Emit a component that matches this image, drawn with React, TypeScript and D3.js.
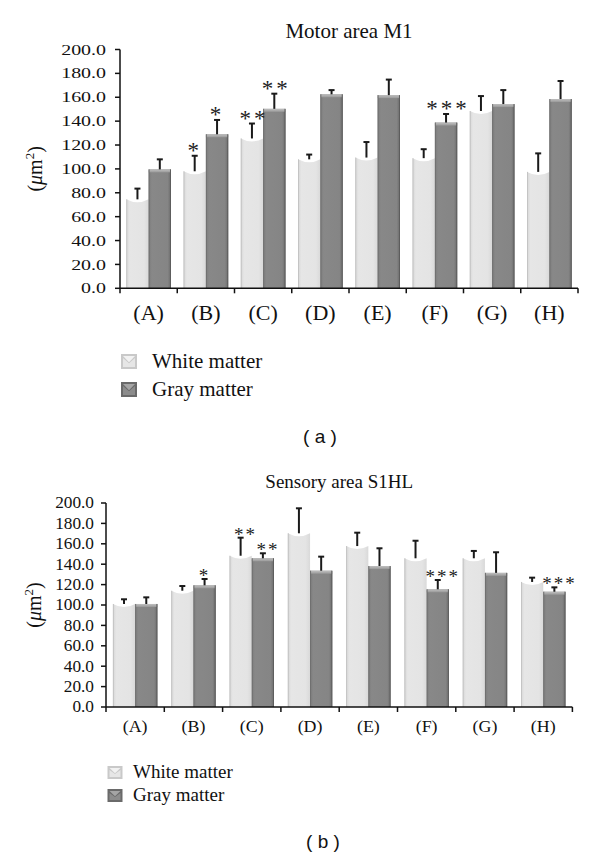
import React from "react";
import * as d3 from "d3";

const categories = ["(A)", "(B)", "(C)", "(D)", "(E)", "(F)", "(G)", "(H)"];
const yTicks = [0, 20, 40, 60, 80, 100, 120, 140, 160, 180, 200];
const seriesNames = ["White matter", "Gray matter"];

const m1White = [74.5, 98, 125.5, 108, 109.5, 109, 148.5, 97.5];
const m1WhiteErr = [9, 13, 12.5, 4, 13, 7.5, 12.5, 15.5];
const m1Gray = [99.6, 129, 150.3, 162.5, 161.8, 138.8, 154.3, 158.5];
const m1GrayErr = [8.4, 12, 12.7, 3.5, 13, 7.2, 11.7, 15.1];
const m1WhiteSig = ["", "*", "**", "", "", "", "", ""];
const m1GraySig = ["", "*", "**", "", "", "***", "", ""];

const s1White = [101, 114, 148.3, 170.3, 157.8, 145.8, 145.8, 122.6];
const s1WhiteErr = [4.6, 4.6, 17.7, 24.5, 13.1, 17.2, 7.2, 4.2];
const s1Gray = [101, 119.3, 145.8, 133.6, 138.2, 115.4, 131.5, 113];
const s1GrayErr = [6.5, 6.2, 4.9, 13.8, 17.4, 9.1, 20.2, 4.3];
const s1WhiteSig = ["", "", "**", "", "", "", "", ""];
const s1GraySig = ["", "*", "**", "", "", "***", "", "***"];

const SERIF = "'Liberation Serif', 'Times New Roman', serif";
const SANS = "'Liberation Sans', Arial, sans-serif";

type Cfg = {
  x0: number; x1: number; y0: number; y1: number; pad: number;
  tickFont: number; tickSX: number; tickX: number;
  catFont: number; catSX: number; catY: number;
  title: string; titleFont: number; titleY: number;
  yLabX: number; yLabFont: number;
  legX: number; legY: number; legW: number; legH: number; legGap: number; legTextX: number; legFont: number;
  panel: string; panelX: number; panelY: number;
  sigFont: number; sigDx: number; sigDy: number; sigLS: number;
};

function WhiteBar({ x, w, yTop, yBase }: { x: number; w: number; yTop: number; yBase: number }) {
  const d = `M${x},${yBase} L${x},${yTop} Q${x + w / 2},${yTop + 6} ${x + w},${yTop} L${x + w},${yBase} Z`;
  return (
    <g>
      <path d={d} fill="url(#whiteGrad)" />
      <line x1={x + 0.5} x2={x + 0.5} y1={yTop} y2={yBase} stroke="#c4c4c4" strokeWidth={1} />
    </g>
  );
}

function GrayBar({ x, w, yTop, yBase }: { x: number; w: number; yTop: number; yBase: number }) {
  return (
    <g>
      <rect x={x} y={yTop} width={w} height={yBase - yTop} fill="url(#grayGrad)" />
      <rect x={x} y={yTop} width={w} height={3} fill="url(#grayTop)" />
      <line x1={x + w - 0.5} x2={x + w - 0.5} y1={yTop} y2={yBase} stroke="#5e5e5e" strokeWidth={1} />
      <line x1={x + 0.5} x2={x + 0.5} y1={yTop} y2={yBase} stroke="#707070" strokeWidth={1} />
    </g>
  );
}

function ErrBar({ cx, yv, ye }: { cx: number; yv: number; ye: number }) {
  return (
    <g stroke="#1a1a1a" strokeWidth={2}>
      <line x1={cx} x2={cx} y1={yv} y2={ye} />
      <line x1={cx - 3} x2={cx + 3} y1={ye} y2={ye} />
    </g>
  );
}

function LegendIcon({ x, y, w, h, dark }: { x: number; y: number; w: number; h: number; dark: boolean }) {
  const outer = dark ? "#6a6a6a" : "#c9c9c9";
  const inner = dark ? "#8c8c8c" : "#e6e6e6";
  const top = dark ? "#a5a5a5" : "#f2f2f2";
  return (
    <g>
      <rect x={x} y={y} width={w} height={h} fill={outer} />
      <path d={`M${x + 2},${y + 2} L${x + w - 2},${y + 2} L${x + w / 2},${y + h * 0.55} Z`} fill={top} />
      <path d={`M${x + 2},${y + h - 2} L${x + 2},${y + 4} L${x + w / 2},${y + h * 0.62} L${x + w - 2},${y + 4} L${x + w - 2},${y + h - 2} Z`} fill={inner} />
    </g>
  );
}

function Panel({ cfg, white, whiteErr, gray, grayErr, whiteSig, graySig }: {
  cfg: Cfg; white: number[]; whiteErr: number[]; gray: number[]; grayErr: number[]; whiteSig: string[]; graySig: string[];
}) {
  const x = d3.scaleBand<string>().domain(categories).range([cfg.x0, cfg.x1]).padding(0);
  const inner = d3.scaleBand<string>().domain(seriesNames).range([0, x.bandwidth()]).paddingInner(0).paddingOuter(cfg.pad);
  const y = d3.scaleLinear().domain([0, 200]).range([cfg.y0, cfg.y1]);
  const bw = inner.bandwidth();
  const plotMid = (cfg.y0 + cfg.y1) / 2;

  const sig = (s: string, cx: number, yy: number) => (
    <text x={cx + (s.length > 1 ? cfg.sigDx : 0)} y={yy + cfg.sigDy}
      textAnchor="middle" fontFamily={SERIF} fontSize={cfg.sigFont} letterSpacing={cfg.sigLS} fill="#222">{s}</text>
  );

  return (
    <g>
      <text x={(cfg.x0 + cfg.x1) / 2} y={cfg.titleY} textAnchor="middle" fontFamily={SERIF} fontSize={cfg.titleFont} fill="#111">
        {cfg.title}
      </text>
      {categories.map((c, i) => {
        const xw = (x(c) as number) + (inner(seriesNames[0]) as number);
        const xg = (x(c) as number) + (inner(seriesNames[1]) as number);
        return (
          <g key={c}>
            <WhiteBar x={xw} w={bw} yTop={y(white[i])} yBase={cfg.y0} />
            <GrayBar x={xg} w={bw} yTop={y(gray[i])} yBase={cfg.y0} />
            <ErrBar cx={xw + bw / 2} yv={y(white[i])} ye={y(white[i] + whiteErr[i])} />
            <ErrBar cx={xg + bw / 2} yv={y(gray[i])} ye={y(gray[i] + grayErr[i])} />
            {whiteSig[i] && sig(whiteSig[i], xw + bw / 2, y(white[i] + whiteErr[i]))}
            {graySig[i] && sig(graySig[i], xg + bw / 2, y(gray[i] + grayErr[i]))}
          </g>
        );
      })}
      <line x1={cfg.x0} x2={cfg.x0} y1={cfg.y1} y2={cfg.y0} stroke="#111" strokeWidth={1.5} />
      {yTicks.map((t) => (
        <g key={t}>
          <line x1={cfg.x0 - 5} x2={cfg.x0} y1={y(t)} y2={y(t)} stroke="#111" strokeWidth={1.5} />
          <text transform={`translate(${cfg.tickX},${y(t)}) scale(${cfg.tickSX},1)`} dy="0.34em" textAnchor="end"
            fontFamily={SERIF} fontSize={cfg.tickFont} fill="#111">{t.toFixed(1)}</text>
        </g>
      ))}
      <line x1={cfg.x0} x2={cfg.x1} y1={cfg.y0} y2={cfg.y0} stroke="#111" strokeWidth={1.5} />
      {categories.map((c) => (
        <line key={c} x1={(x(c) as number) + x.bandwidth()} x2={(x(c) as number) + x.bandwidth()} y1={cfg.y0} y2={cfg.y0 + 5} stroke="#111" strokeWidth={1.5} />
      ))}
      <line x1={cfg.x0} x2={cfg.x0} y1={cfg.y0} y2={cfg.y0 + 5} stroke="#111" strokeWidth={1.5} />
      {categories.map((c) => (
        <text key={c} transform={`translate(${(x(c) as number) + x.bandwidth() / 2},${cfg.catY}) scale(${cfg.catSX},1)`}
          textAnchor="middle" fontFamily={SERIF} fontSize={cfg.catFont} fill="#111">{c}</text>
      ))}
      <text transform={`translate(${cfg.yLabX},${plotMid}) rotate(-90)`} textAnchor="middle" fontFamily={SERIF} fontSize={cfg.yLabFont} fill="#111">
        (<tspan fontStyle="italic">μ</tspan>m<tspan dy={-cfg.yLabFont * 0.4} fontSize={cfg.yLabFont * 0.65}>2</tspan><tspan dy={cfg.yLabFont * 0.4}>)</tspan>
      </text>
      {seriesNames.map((s, i) => (
        <g key={s}>
          <LegendIcon x={cfg.legX} y={cfg.legY + i * cfg.legGap} w={cfg.legW} h={cfg.legH} dark={i === 1} />
          <text x={cfg.legTextX} y={cfg.legY + i * cfg.legGap + cfg.legH - 1} fontFamily={SERIF} fontSize={cfg.legFont} fill="#111">{s}</text>
        </g>
      ))}
      <text x={cfg.panelX} y={cfg.panelY} textAnchor="middle" fontFamily={SANS} fontSize={19} fill="#111" xmlSpace="preserve">{cfg.panel}</text>
    </g>
  );
}

const topCfg: Cfg = {
  x0: 120, x1: 578, y0: 288.3, y1: 49.5, pad: 0.28,
  tickFont: 15, tickSX: 1.33, tickX: 106,
  catFont: 20, catSX: 1.1, catY: 320,
  title: "Motor area M1", titleFont: 21, titleY: 38,
  yLabX: 42, yLabFont: 20,
  legX: 121, legY: 354, legW: 16, legH: 15, legGap: 28, legTextX: 152, legFont: 21,
  panel: "( a )", panelX: 320, panelY: 443,
  sigFont: 23, sigDx: 2, sigDy: 2, sigLS: 3,
};

const botCfg: Cfg = {
  x0: 106, x1: 572.4, y0: 707, y1: 503, pad: 0.31,
  tickFont: 16, tickSX: 1.08, tickX: 94,
  catFont: 17, catSX: 1.05, catY: 732,
  title: "Sensory area S1HL", titleFont: 19, titleY: 488,
  yLabX: 41, yLabFont: 20,
  legX: 107.5, legY: 766, legW: 15, legH: 13, legGap: 23, legTextX: 133, legFont: 19,
  panel: "( b )", panelX: 323, panelY: 848,
  sigFont: 19, sigDx: 5, sigDy: 3, sigLS: 2,
};

export default function App() {
  return (
    <svg width={600} height={857} viewBox="0 0 600 857" style={{ position: "absolute", left: 0, top: 0, background: "#fff" }}>
      <defs>
        <linearGradient id="whiteGrad" x1="0" x2="1" y1="0" y2="0">
          <stop offset="0" stopColor="#d6d6d6" />
          <stop offset="0.15" stopColor="#e6e6e6" />
          <stop offset="0.8" stopColor="#e4e4e4" />
          <stop offset="1" stopColor="#d9d9d9" />
        </linearGradient>
        <linearGradient id="grayGrad" x1="0" x2="1" y1="0" y2="0">
          <stop offset="0" stopColor="#7c7c7c" />
          <stop offset="0.15" stopColor="#888888" />
          <stop offset="0.85" stopColor="#858585" />
          <stop offset="1" stopColor="#6c6c6c" />
        </linearGradient>
        <linearGradient id="grayTop" x1="0" x2="0" y1="0" y2="1">
          <stop offset="0" stopColor="#c0c0c0" />
          <stop offset="1" stopColor="#999999" />
        </linearGradient>
      </defs>
      <rect x={0} y={0} width={600} height={857} fill="#fff" />
      <Panel cfg={topCfg} white={m1White} whiteErr={m1WhiteErr} gray={m1Gray} grayErr={m1GrayErr} whiteSig={m1WhiteSig} graySig={m1GraySig} />
      <Panel cfg={botCfg} white={s1White} whiteErr={s1WhiteErr} gray={s1Gray} grayErr={s1GrayErr} whiteSig={s1WhiteSig} graySig={s1GraySig} />
    </svg>
  );
}
